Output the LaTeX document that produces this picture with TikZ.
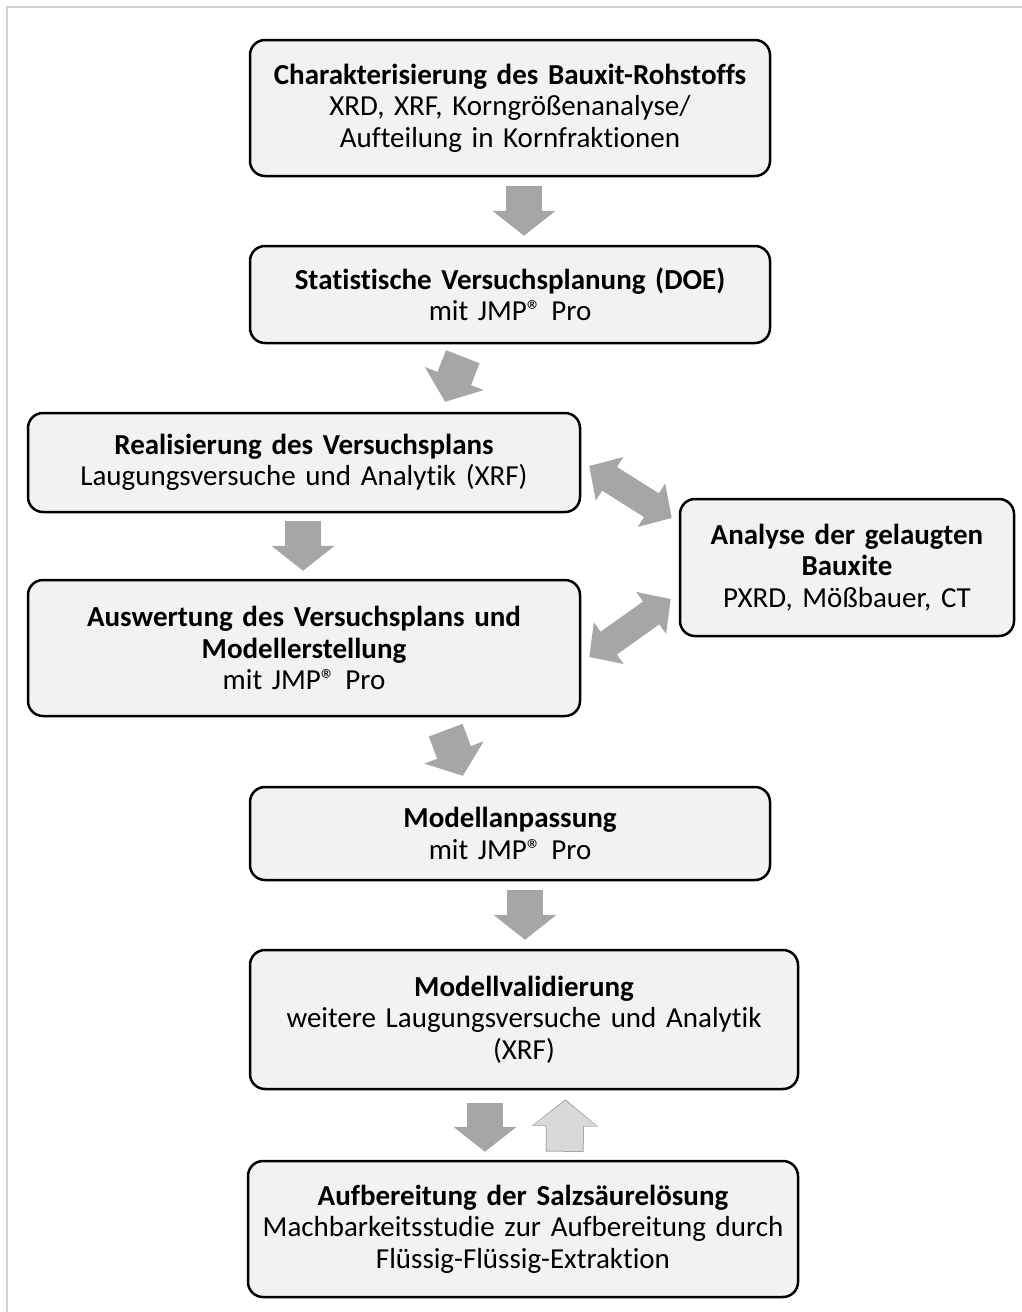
\documentclass[tikz,border=0pt]{standalone}
\usepackage{fontspec}
\setmainfont{Carlito}[Ligatures=NoCommon]
\usetikzlibrary{arrows.meta,calc}

\definecolor{boxGray}{HTML}{F2F2F2}
\definecolor{arrowGray}{HTML}{A6A6A6}
\definecolor{lightArrow}{HTML}{D9D9D9}
\definecolor{frameGray}{HTML}{D0D0D0}

\tikzset{
	stepbox/.style={draw=black, line width=2.5pt, fill=boxGray, rounded corners=15pt,
		align=center, inner sep=0pt, font=\fontsize{29}{31.5}\selectfont},
	flow/.style={draw=arrowGray, line width=36pt, -{Triangle[length=25pt,width=62pt]}},
	both/.style={draw=arrowGray, line width=28pt,
		{Triangle[length=24pt,width=50pt]}-{Triangle[length=24pt,width=50pt]}}
}

\begin{document}
\begin{tikzpicture}[x=1pt,y=-1pt] % pixel grid, y downwards
		\newcommand{\jmpPro}{mit JMP® Pro}
		
		\useasboundingbox (0,0) rectangle (1022,1312);
		\draw[frameGray, line width=2pt] (7,1312) -- (7,7) -- (1022,7);	% frame
		
		% main column
		\node[stepbox, minimum width=520pt, minimum height=136pt, text width=510pt] (b1) at (510,108)
			{\textbf{Charakterisierung des Bauxit-Rohstoffs}\\XRD, XRF, Korngrößenanalyse/\\Aufteilung in Kornfraktionen};
		\node[stepbox, minimum width=520pt, minimum height=97pt, text width=510pt] (b2) at (510,294.5)
			{\textbf{Statistische Versuchsplanung (DOE)}\\\jmpPro};
		\node[stepbox, minimum width=552pt, minimum height=99pt, text width=540pt] (b3) at (304,462.5)
			{\textbf{Realisierung des Versuchsplans}\\Laugungsversuche und Analytik (XRF)};
		\node[stepbox, minimum width=552pt, minimum height=136pt, text width=540pt] (b4) at (304,648)
			{\textbf{Auswertung des Versuchsplans und}\\\textbf{Modellerstellung}\\\jmpPro};
		\node[stepbox, minimum width=520pt, minimum height=93pt, text width=510pt] (b5) at (510,833.5)
			{\textbf{Modellanpassung}\\\jmpPro};
		\node[stepbox, minimum width=548pt, minimum height=139pt, text width=540pt] (b6) at (524,1019.5)
			{\textbf{Modellvalidierung}\\weitere Laugungsversuche und Analytik\\(XRF)};
		\node[stepbox, minimum width=550pt, minimum height=136pt, text width=540pt] (b7) at (523,1229)
			{\textbf{Aufbereitung der Salzsäurelösung}\\Machbarkeitsstudie zur Aufbereitung durch\\Flüssig-Flüssig-Extraktion};
		
		% side box
		\node[stepbox, minimum width=334pt, minimum height=137pt, text width=320pt] (ana) at (847,567.5)
			{\textbf{Analyse der gelaugten}\\\textbf{Bauxite}\\PXRD, Mößbauer, CT};
		
		% arrows down the column
		\draw[flow, shorten <=9pt, shorten >=9pt] ([xshift=14pt]b1.south) -- ([xshift=14pt]b2.north);
		\draw[flow, shorten <=13.4pt, shorten >=10.7pt] ([xshift=-42.3pt]b2.south) -- ([xshift=137.2pt]b3.north);
		\draw[flow, shorten <=8pt, shorten >=8pt] ([xshift=-1pt]b3.south) -- ([xshift=-1pt]b4.north);
		\draw[flow, shorten <=13.8pt, shorten >=10.6pt] ([xshift=136.8pt]b4.south) -- ([xshift=-43.4pt]b5.north);
		\draw[flow, shorten <=9pt, shorten >=9pt] ([xshift=15pt]b5.south) -- ([xshift=1pt]b6.north);
		\draw[flow, shorten <=13pt, shorten >=8pt] ([xshift=-39pt]b6.south) -- ([xshift=-38pt]b7.north);
		
		% return arrow, outlined
		\draw[arrowGray, line width=38pt, -{Triangle[length=27pt,width=65pt]}, shorten <=8pt, shorten >=9pt]
			([xshift=41.5pt]b7.north) -- ([xshift=41.5pt]b6.south);
		\draw[lightArrow, line width=36pt, -{Triangle[length=25pt,width=62pt]}, shorten <=9pt, shorten >=10.5pt]
			([xshift=41.5pt]b7.north) -- ([xshift=41.5pt]b6.south);
		
		% exchange with the analysis box
		\draw[both] ($(b3.east)+(8,3.5)$) -- ($(ana.west)+(-7,-49.5)$);
		\draw[both] ($(b4.east)+(8,9)$) -- ($(ana.west)+(-8,31.5)$);
\end{tikzpicture}
\end{document}
